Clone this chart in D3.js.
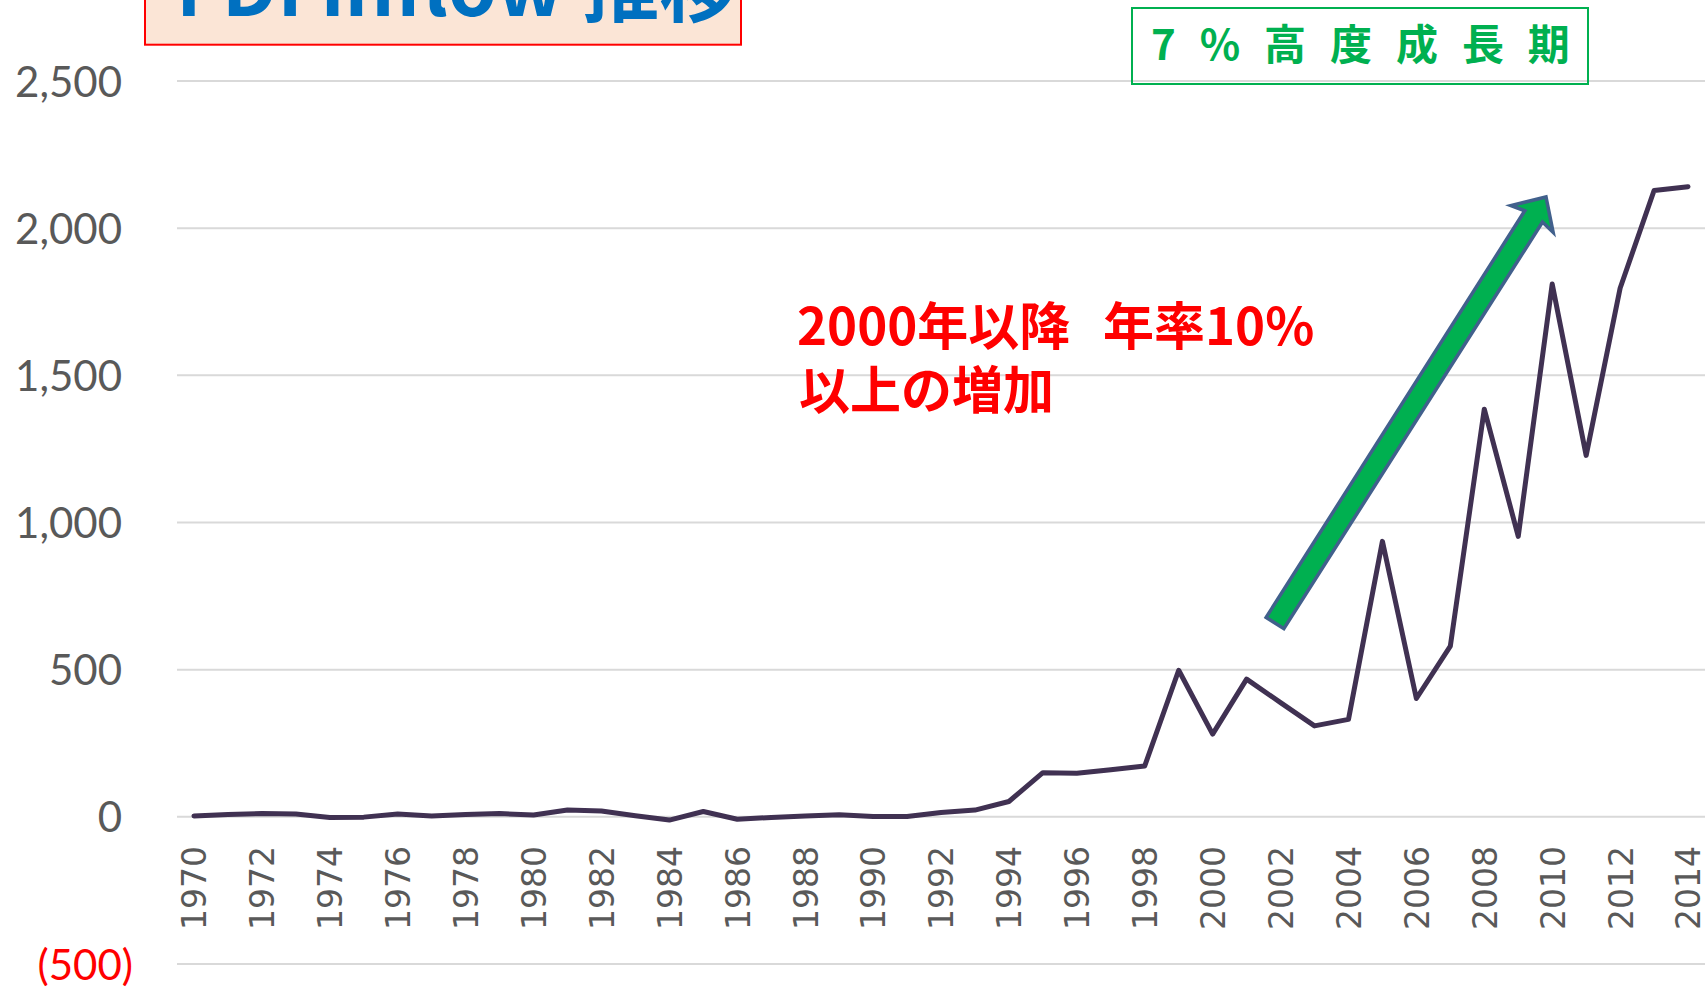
<!DOCTYPE html>
<html>
<head>
<meta charset="utf-8">
<script src="https://cdn.jsdelivr.net/npm/d3@7"></script>
<style>
body { margin: 0; background: #fff; }
svg { display: block; }
</style>
</head>
<body>
<svg id="chart"></svg>
<script>
// FDI inflow 推移 (1970-2014)
var years = [1970, 1971, 1972, 1973, 1974, 1975, 1976, 1977, 1978, 1979,
    1980, 1981, 1982, 1983, 1984, 1985, 1986, 1987, 1988, 1989,
    1990, 1991, 1992, 1993, 1994, 1995, 1996, 1997, 1998, 1999,
    2000, 2001, 2002, 2003, 2004, 2005, 2006, 2007, 2008, 2009,
    2010, 2011, 2012, 2013, 2014];
var inflow = [3, 8, 11, 10, -2, -1, 10, 3, 8, 11,
    6, 23, 20, 4, -11, 18, -8, -2, 3, 7,
    1, 1, 15, 23, 52, 150, 148, 160, 173, 498,
    281, 468, 388, 309, 331, 936, 402, 580, 1385, 953,
    1810, 1228, 1796, 2128, 2141];
var yTicks = [-500, 0, 500, 1000, 1500, 2000, 2500];
var xTickYears = years.filter(function(d, i) { return i % 2 == 0; });

var W = 1708, H = 988;
var svg = d3.select('#chart').attr('width', W).attr('height', H);

var x = d3.scalePoint().domain(years).range([177, 1705]).padding(0.5);
var y = d3.scaleLinear().domain([-500, 2500]).range([964, 81]);

// gridlines
svg.append('g').selectAll('line').data(yTicks).enter().append('line')
    .attr('x1', 177).attr('x2', 1705)
    .attr('y1', function(d) { return y(d); }).attr('y2', function(d) { return y(d); })
    .attr('stroke', '#d9d9d9').attr('stroke-width', 2);

// y axis labels
var yAxis = d3.axisLeft(y).tickValues(yTicks).tickSize(0).tickPadding(0)
    .tickFormat(function(d) { return d < 0 ? '(' + d3.format(',')(-d) + ')' : d3.format(',')(d); });
var ya = svg.append('g').attr('transform', 'translate(133,0)').call(yAxis);
ya.select('.domain').remove();
ya.selectAll('text')
    .attr('font-family', 'Lato, "Liberation Sans", sans-serif').attr('font-size', 42)
    .attr('fill', function(d) { return d < 0 ? '#ff0000' : '#595959'; })
    .attr('x', function(d) { return d < 0 ? 0 : -11; })
    .attr('dy', '0.36em');

// x axis labels
var xAxis = d3.axisBottom(x).tickValues(xTickYears).tickSize(0).tickPadding(0);
var xa = svg.append('g').attr('transform', 'translate(0,846)').call(xAxis);
xa.select('.domain').remove();
xa.selectAll('text')
    .attr('font-family', '"DejaVu Sans", sans-serif').attr('font-size', 33)
    .attr('fill', '#595959')
    .attr('transform', 'rotate(-90)')
    .attr('text-anchor', 'end')
    .attr('x', 0).attr('y', 0).attr('dy', '0.36em');

// the line
var line = d3.line()
    .x(function(d, i) { return x(years[i]); })
    .y(function(d) { return y(d); });
svg.append('path').datum(inflow)
    .attr('d', line)
    .attr('fill', 'none').attr('stroke', '#403152').attr('stroke-width', 5)
    .attr('stroke-linejoin', 'round').attr('stroke-linecap', 'round');

// title box
svg.append('rect').attr('x', 145).attr('y', -30).attr('width', 596).attr('height', 74.7)
    .attr('fill', '#fbe5d6').attr('stroke', '#ff0000').attr('stroke-width', 2);
svg.append('text').attr('x', 176).attr('y', 16)
    .attr('font-family', '"Noto Sans CJK JP", sans-serif').attr('font-weight', 'bold')
    .attr('font-size', 78).attr('fill', '#0070c0')
    .text('FDI inflow 推移');

// 7% box
svg.append('rect').attr('x', 1132).attr('y', 8).attr('width', 456).attr('height', 76)
    .attr('fill', 'none').attr('stroke', '#00b050').attr('stroke-width', 2);
svg.append('text').attr('x', 1151).attr('y', 60)
    .attr('font-family', '"Noto Sans CJK JP", sans-serif').attr('font-weight', 'bold')
    .attr('font-size', 42).attr('fill', '#00b050').attr('letter-spacing', 7.2)
    .text('7 % 高 度 成 長 期');

// annotation
var noteFont = '"Noto Sans CJK JP", sans-serif';
function note(tx, ty, s) {
    svg.append('text').attr('x', tx).attr('y', ty)
        .attr('font-family', noteFont).attr('font-weight', 'bold')
        .attr('font-size', 51).attr('fill', '#ff0000').text(s);
}
note(797, 345, '2000年以降');
note(1103, 345, '年率10%');
note(799, 409, '以上の増加');

// arrow
var tail = [1275, 623], tip = [1546, 197];
var dx = tip[0] - tail[0], dy = tip[1] - tail[1];
var len = Math.sqrt(dx * dx + dy * dy);
var ux = dx / len, uy = dy / len, nx = -uy, ny = ux;
var sw = 10.5, hw = 25, hl = 23;
function pt(a, b) { return [tail[0] + ux * a + nx * b, tail[1] + uy * a + ny * b]; }
var arrowPts = [pt(0, -sw), pt(len - hl, -sw), pt(len - hl - 3, -hw), pt(len, 0),
    pt(len - hl - 3, hw), pt(len - hl, sw), pt(0, sw)];
svg.append('polygon')
    .attr('points', arrowPts.map(function(p) { return p.join(','); }).join(' '))
    .attr('fill', '#00b050').attr('stroke', '#41608c').attr('stroke-width', 3.5)
    .attr('stroke-linejoin', 'miter');
</script>
</body>
</html>
